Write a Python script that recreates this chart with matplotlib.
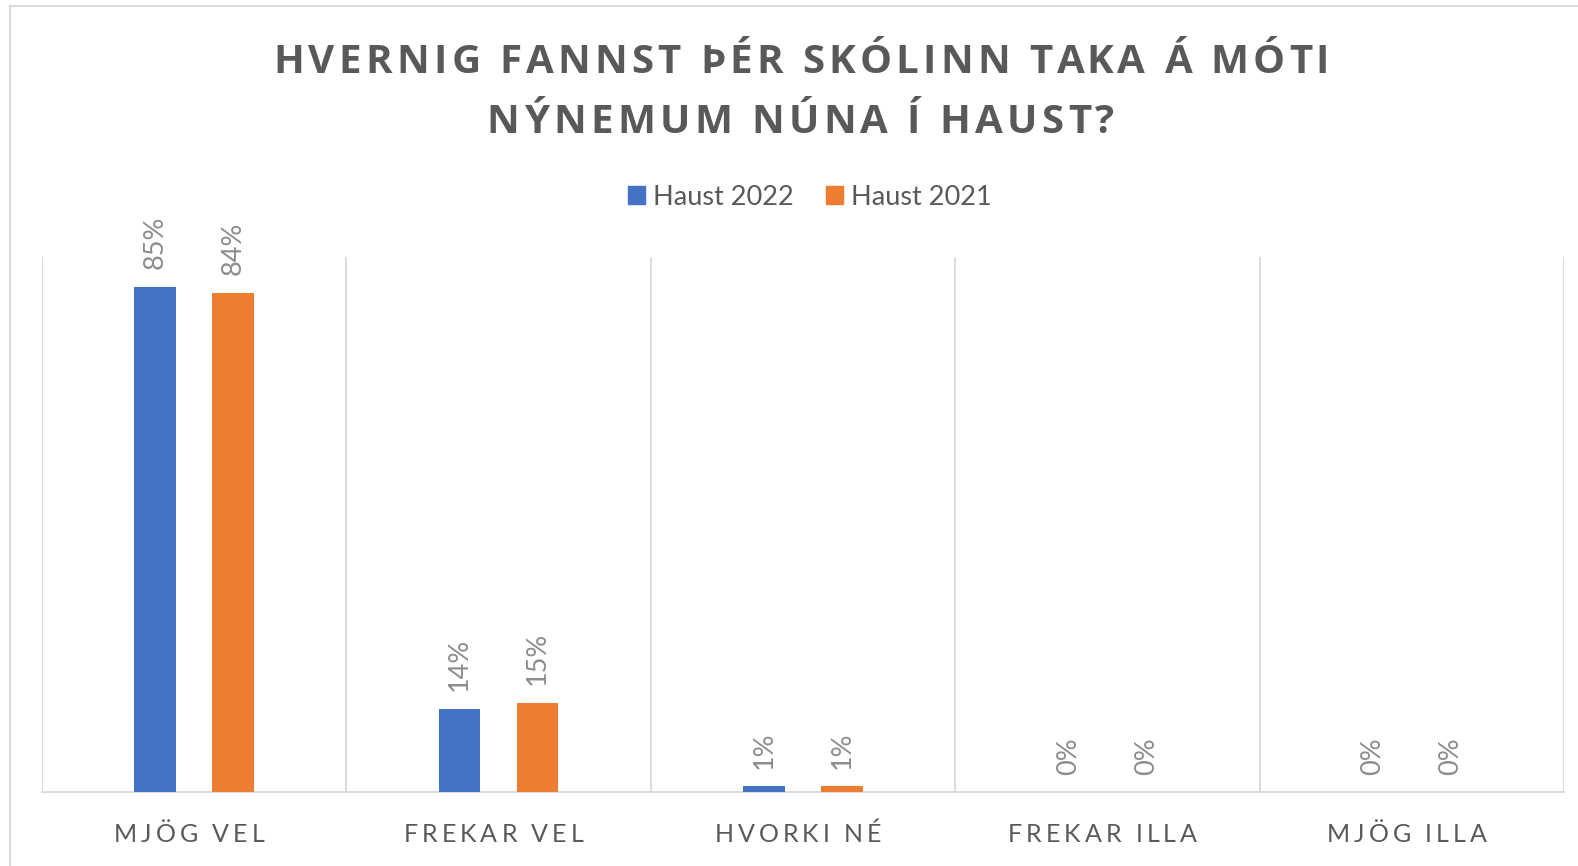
import matplotlib
matplotlib.use("Agg")
import matplotlib.pyplot as plt
from matplotlib.transforms import IdentityTransform
from matplotlib.patches import Patch
from matplotlib.lines import Line2D

titleLines = ["HVERNIG FANNST ÞÉR SKÓLINN TAKA Á MÓTI", "NÝNEMUM NÚNA Í HAUST?"]
categories = ["MJÖG VEL", "FREKAR VEL", "HVORKI NÉ", "FREKAR ILLA", "MJÖG ILLA"]
seriesNames = ["Haust 2022", "Haust 2021"]
haust2022 = [85, 14, 1, 0, 0]
haust2021 = [84, 15, 1, 0, 0]

BLUE = "#4472C4"
ORANGE = "#ED7D31"
GRID = "#D9D9D9"
TEXT = "#595959"
LABEL = "#8C8C8C"

W, H = 1578, 866


def textWidth(fig, renderer, s, **kw):

    # "|" as sentinel so trailing spaces count
    t = fig.text(0, 0, s + "|", transform = IdentityTransform(), **kw)
    w = t.get_window_extent(renderer).width
    t.remove()

    return w


def spacedText(fig, renderer, s, xCenter, yBase, spacing, **kw):

    bar = textWidth(fig, renderer, "", **kw)
    offsets = [textWidth(fig, renderer, s[:i], **kw) - bar + i * spacing for i in range(len(s))]
    total = textWidth(fig, renderer, s, **kw) - bar + (len(s) - 1) * spacing

    x0 = xCenter - total / 2

    for ch, off in zip(s, offsets):

        fig.text(x0 + off, yBase, ch, transform = IdentityTransform(), ha = "left", va = "baseline", **kw)


def main():

    fig = plt.figure(figsize = (W / 100, H / 100), dpi = 100)
    renderer = fig.canvas.get_renderer()

    ax = fig.add_axes([42 / W, 1 - 792 / H, (1564 - 42) / W, (792 - 257) / H])

    x = list(range(len(categories)))
    off = 0.128
    width = 0.137

    ax.bar([i - off for i in x], haust2022, width = width, color = BLUE, zorder = 3)
    ax.bar([i + off for i in x], haust2021, width = width, color = ORANGE, zorder = 3)

    for vals, sign in [(haust2022, -1), (haust2021, 1)]:

        for i, v in enumerate(vals):

            ax.annotate(f"{v}%", (i + sign * off, v), xytext = (0, 12.5), textcoords = "offset points",
                        rotation = 90, ha = "center", va = "bottom", fontsize = 19.5,
                        family = "Lato", color = LABEL)

    ax.set_xlim(-0.5, len(categories) - 0.5)
    ax.set_ylim(0, 90)

    for b in range(len(categories) + 1):

        ax.axvline(b - 0.5, color = GRID, lw = 1.3, zorder = 1)

    for side in ["top", "right", "left"]:

        ax.spines[side].set_visible(False)

    ax.spines["bottom"].set_color(GRID)
    ax.spines["bottom"].set_linewidth(1.3)
    ax.set_xticks([])
    ax.set_yticks([])

    # figure border (top and left visible)
    fig.add_artist(Line2D([10, W + 5], [H - 6, H - 6], transform = IdentityTransform(), color = GRID, lw = 1.5))
    fig.add_artist(Line2D([10, 10], [-5, H - 6], transform = IdentityTransform(), color = GRID, lw = 1.5))

    # title
    titleKw = dict(fontsize = 29, family = "Open Sans", weight = "bold", color = TEXT)
    spacedText(fig, renderer, titleLines[0], 801, H - 73, 4.3, **titleKw)
    spacedText(fig, renderer, titleLines[1], 801, H - 133, 4.3, **titleKw)

    # category labels, Excel pads the right so centres sit a bit left
    catKw = dict(fontsize = 18, family = "Lato", color = TEXT)

    for i, name in enumerate(categories):

        xPix = ax.transData.transform((i, 0))[0]
        spacedText(fig, renderer, name, xPix - 5, H - 842, 4, **catKw)

    handles = [Patch(color = BLUE), Patch(color = ORANGE)]
    fig.legend(handles, seriesNames, loc = "center", bbox_to_anchor = (810 / W, 1 - 197 / H),
               ncol = 2, frameon = False, handlelength = 0.62, handleheight = 0.62,
               handletextpad = 0.3, columnspacing = 1.2,
               prop = {"family": "Lato", "size": 19.5}, labelcolor = TEXT)

    fig.savefig("out.png", dpi = 100, facecolor = "white")


if __name__ == "__main__":
    main()
